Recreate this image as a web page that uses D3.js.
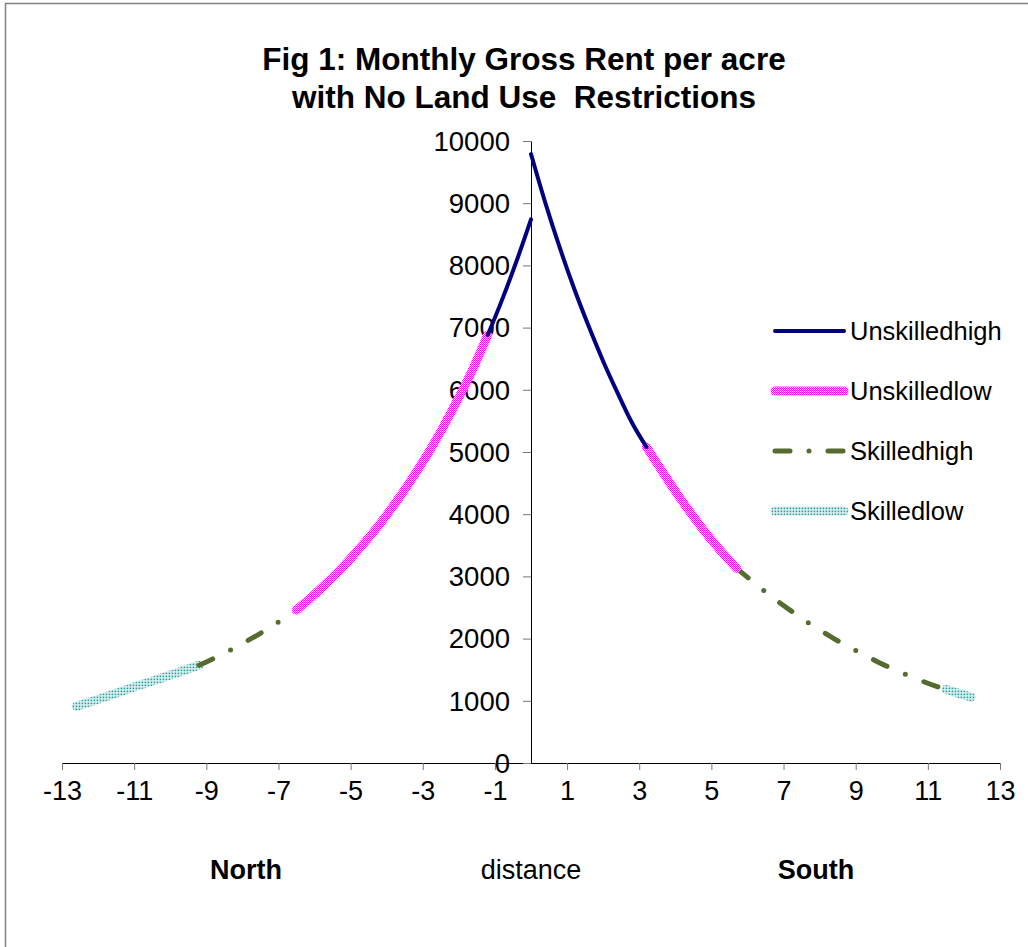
<!DOCTYPE html>
<html>
<head>
<meta charset="utf-8">
<script src="https://cdn.jsdelivr.net/npm/d3@7"></script>
<style>
  html, body { margin: 0; padding: 0; background: #fff; }
  svg { display: block; font-family: "Liberation Sans", Arial, sans-serif; }
</style>
</head>
<body>
<svg id="chart" width="1028" height="947"></svg>
<script>
// Rent gradients, north branch (negative distance) and south branch (positive distance)
const seriesNames = ["Unskilledhigh", "Unskilledlow", "Skilledhigh", "Skilledlow"];

const unskilledHighNorthDist = [0, -0.4, -0.8, -1.2];
const unskilledHighNorthRent = [8740, 8070, 7450, 6880];
const unskilledHighSouthDist = [0, 0.4, 0.8, 1.2, 1.6, 2.0, 2.4, 2.8, 3.2];
const unskilledHighSouthRent = [9790, 9000, 8280, 7620, 7020, 6460, 5950, 5470, 5080];

const unskilledLowNorthDist = [-1.2, -1.6, -2.0, -2.4, -2.8, -3.2, -3.6, -4.0, -4.4, -4.8, -5.2, -5.6, -6.0, -6.5];
const unskilledLowNorthRent = [6880, 6350, 5880, 5440, 5030, 4660, 4310, 3990, 3690, 3420, 3160, 2930, 2710, 2460];
const unskilledLowSouthDist = [3.2, 3.6, 4.0, 4.4, 4.8, 5.2, 5.7];
const unskilledLowSouthRent = [5080, 4720, 4370, 4040, 3730, 3450, 3130];

const skilledHighNorthDist = [-6.5, -7.0, -7.5, -8.0, -8.5, -9.0, -9.2];
const skilledHighNorthRent = [2460, 2265, 2085, 1920, 1765, 1625, 1572];
const skilledHighSouthDist = [5.7, 6.2, 6.7, 7.2, 7.7, 8.2, 8.7, 9.2, 9.7, 10.2, 10.7, 11.2, 11.5];
const skilledHighSouthRent = [3130, 2890, 2660, 2450, 2250, 2070, 1900, 1750, 1600, 1470, 1350, 1240, 1185];

const skilledLowNorthDist = [-9.2, -9.8, -10.4, -11.0, -11.6, -12.2, -12.6];
const skilledLowNorthRent = [1572, 1450, 1335, 1220, 1100, 985, 910];
const skilledLowSouthDist = [11.5, 11.85, 12.2];
const skilledLowSouthRent = [1185, 1120, 1060];

const xTicks = [-13, -11, -9, -7, -5, -3, -1, 1, 3, 5, 7, 9, 11, 13];
const yTicks = [0, 1000, 2000, 3000, 4000, 5000, 6000, 7000, 8000, 9000, 10000];
const titleLines = ["Fig 1: Monthly Gross Rent per acre", "with No Land Use  Restrictions"];
const sideLabels = ["North", "distance", "South"];
const sideLabelDist = [-7.9, 0, 7.9];

const zip = (xs, ys) => xs.map((d, i) => ({ d: d, r: ys[i] }));

const svg = d3.select("#chart");
const defs = svg.append("defs");

// Fine dotted fills used by the two "low" series
const pink = defs.append("pattern").attr("id", "pinkDots")
  .attr("patternUnits", "userSpaceOnUse").attr("width", 2).attr("height", 2);
pink.append("rect").attr("width", 2).attr("height", 2).attr("fill", "#ffc4ff");
pink.append("rect").attr("x", 0).attr("y", 0).attr("width", 1).attr("height", 1).attr("fill", "#ff00ff");
pink.append("rect").attr("x", 1).attr("y", 1).attr("width", 1).attr("height", 1).attr("fill", "#ff1aff");

const teal = defs.append("pattern").attr("id", "tealDots")
  .attr("patternUnits", "userSpaceOnUse").attr("width", 3).attr("height", 3);
teal.append("rect").attr("width", 3).attr("height", 3).attr("fill", "#dcf3f3");
teal.append("rect").attr("x", 0.6).attr("y", 0.6).attr("width", 1.6).attr("height", 1.6).attr("fill", "#2f9a9a");

const styles = {
  Unskilledhigh: { stroke: "#000080", width: 4, dash: null },
  Unskilledlow: { stroke: "url(#pinkDots)", width: 9, dash: null },
  Skilledhigh: { stroke: "#556b2f", width: 5, dash: "15,20,0,20" },
  Skilledlow: { stroke: "url(#tealDots)", width: 9, dash: null }
};

const series = [
  { name: "Skilledlow", parts: [zip(skilledLowNorthDist, skilledLowNorthRent), zip(skilledLowSouthDist, skilledLowSouthRent)] },
  { name: "Skilledhigh", parts: [zip(skilledHighNorthDist, skilledHighNorthRent), zip(skilledHighSouthDist, skilledHighSouthRent)] },
  { name: "Unskilledlow", parts: [zip(unskilledLowNorthDist, unskilledLowNorthRent), zip(unskilledLowSouthDist, unskilledLowSouthRent)] },
  { name: "Unskilledhigh", parts: [zip(unskilledHighNorthDist, unskilledHighNorthRent), zip(unskilledHighSouthDist, unskilledHighSouthRent)] }
];

// Outer frame
svg.append("path").attr("d", "M5.5,947 V3.5 H1028")
  .attr("fill", "none").attr("stroke", "#808080").attr("stroke-width", 1.5);

const x = d3.scaleLinear().domain([-13, 13]).range([62, 1000]);
const y = d3.scaleLinear().domain([0, 10000]).range([763, 141]);

// Title
svg.append("g").selectAll("text").data(titleLines).join("text")
  .attr("x", 524).attr("y", (d, i) => 70 + i * 38)
  .attr("text-anchor", "middle").attr("font-weight", "bold").attr("font-size", 31.5)
  .style("white-space", "pre").attr("xml:space", "preserve")
  .text(d => d);

// Axes
const xAxis = svg.append("g").attr("transform", `translate(0,${y(0)})`)
  .call(d3.axisBottom(x).tickValues(xTicks).tickSize(7).tickSizeOuter(0).tickPadding(11)
    .tickFormat(d3.format("d")));
xAxis.select(".domain").attr("stroke", "#000").attr("stroke-width", 1);
xAxis.selectAll(".tick line").attr("stroke", "#777");
xAxis.selectAll("text").attr("font-size", 27).attr("font-family", "Liberation Sans, Arial, sans-serif")
  .attr("fill", "#000").text(d => d < 0 ? "-" + Math.abs(d) : d);

const yAxis = svg.append("g").attr("transform", `translate(${x(0)},0)`)
  .call(d3.axisLeft(y).tickValues(yTicks).tickSize(8).tickSizeOuter(0).tickPadding(13)
    .tickFormat(d3.format("d")));
yAxis.select(".domain").attr("stroke", "#000").attr("stroke-width", 1);
yAxis.selectAll(".tick line").attr("stroke", "#777");
yAxis.selectAll("text").attr("font-size", 27.5).attr("font-family", "Liberation Sans, Arial, sans-serif")
  .attr("fill", "#000").attr("dy", "0.34em");

// Curves
const line = d3.line().x(p => x(p.d)).y(p => y(p.r)).curve(d3.curveMonotoneX);
const plot = svg.append("g");
series.forEach(s => {
  const st = styles[s.name];
  s.parts.forEach(part => {
    const pts = part.slice().sort((a, b) => a.d - b.d);
    plot.append("path").datum(pts)
      .attr("d", line)
      .attr("fill", "none")
      .attr("stroke", st.stroke)
      .attr("stroke-width", st.width)
      .attr("stroke-linecap", "round")
      .attr("stroke-linejoin", "round")
      .attr("stroke-dasharray", st.dash);
  });
});

// Legend
const legend = svg.append("g");
seriesNames.forEach((name, i) => {
  const st = styles[name];
  const ly = 331 + i * 60;
  legend.append("line").attr("x1", 775).attr("x2", 844).attr("y1", ly).attr("y2", ly)
    .attr("stroke", st.stroke).attr("stroke-width", st.width)
    .attr("stroke-linecap", "round")
    .attr("stroke-dasharray", name === "Skilledhigh" ? "15,19,0,19" : null);
  legend.append("text").attr("x", 850).attr("y", ly).attr("dy", "0.36em")
    .attr("font-size", 25.5).text(name);
});

// Direction and axis labels under the x axis
svg.append("g").selectAll("text").data(sideLabels).join("text")
  .attr("x", (d, i) => x(sideLabelDist[i]))
  .attr("y", 879)
  .attr("text-anchor", "middle").attr("font-size", 27)
  .attr("font-weight", (d, i) => i === 1 ? "normal" : "bold")
  .text(d => d);
</script>
</body>
</html>
